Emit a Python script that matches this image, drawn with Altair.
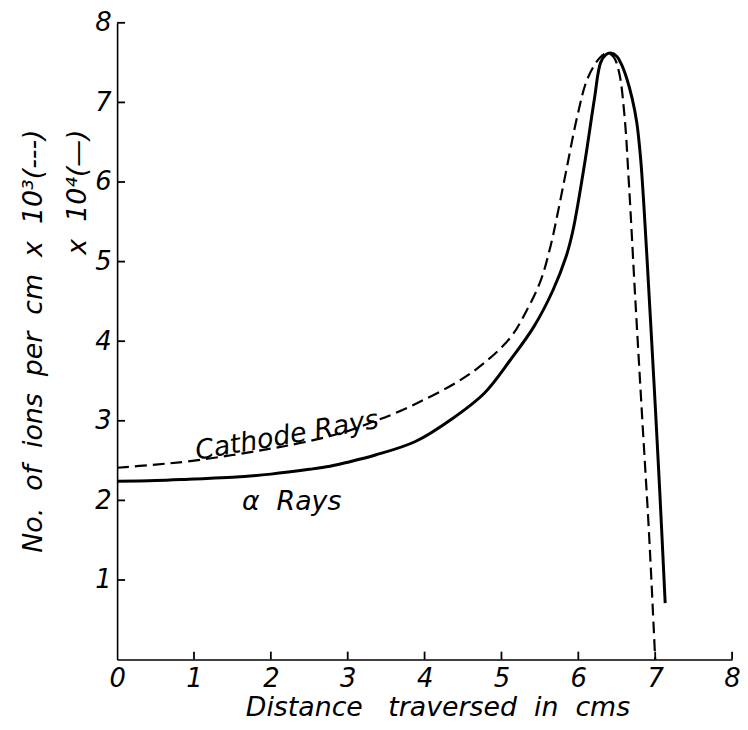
import altair as alt
import pandas as pd

# alpha rays (solid), x10^4 ions per cm
alpha_x = [0.0, 0.5, 1.0, 1.5, 2.0, 2.5, 2.77, 3.0, 3.36, 3.88, 4.35, 4.78, 5.12, 5.42, 5.67, 5.84,
           5.93, 6.08, 6.21, 6.29, 6.36, 6.42, 6.50, 6.56, 6.63, 6.70, 6.76, 6.81, 6.85, 6.89, 6.94,
           7.00, 7.06, 7.13]
alpha_y = [2.24, 2.25, 2.27, 2.29, 2.33, 2.39, 2.43, 2.48, 2.57, 2.74, 3.02, 3.35, 3.77, 4.18, 4.64, 5.06,
           5.39, 6.22, 7.05, 7.50, 7.60, 7.62, 7.58, 7.48, 7.30, 7.05, 6.75, 6.30, 5.75, 5.10, 4.25,
           3.20, 2.10, 0.71]

# cathode rays (dashed), x10^3 ions per cm
cath_x = [0.0, 0.5, 0.92, 1.5, 2.0, 2.43, 3.0, 3.36, 3.53, 3.92, 4.43, 4.78, 5.12, 5.33, 5.51, 5.64,
          5.73, 5.84, 5.99, 6.12, 6.28, 6.38, 6.46, 6.53, 6.60, 6.66, 6.74, 6.83, 6.92, 7.00]
cath_y = [2.41, 2.45, 2.49, 2.57, 2.65, 2.73, 2.87, 3.00, 3.06, 3.23, 3.49, 3.73, 4.05, 4.39, 4.76, 5.20,
          5.60, 6.13, 6.84, 7.30, 7.56, 7.62, 7.57, 7.38, 6.84, 5.95, 4.55, 3.05, 1.58, 0.0]

x_ticks = [0, 1, 2, 3, 4, 5, 6, 7, 8]
y_ticks = [1, 2, 3, 4, 5, 6, 7, 8]
inner_ticks = [1, 2, 3, 4, 5, 6, 7, 8]

NB = "\u00a0"
labels_text = ["Cathode" + NB + "Rays", "\u03b1" + NB + NB + "Rays"]
labels_x = [2.21, 2.27]
labels_y = [2.81, 1.98]
labels_angle = [350, 0]

x_title = "Distance" + NB + NB + " traversed" + NB + " in" + NB + " cms"
y_title = ["No." + NB + " of" + NB + " ions" + NB + " per" + NB + " cm" + NB + " x" + NB + " 10\u00b3(---)",
           "x" + NB + " 10\u2074(\u2014)"]

FONT = "DejaVu Sans"
W, H = 620, 642

alpha_df = pd.DataFrame({"x": alpha_x, "y": alpha_y})
cath_df = pd.DataFrame({"x": cath_x, "y": cath_y})
tick_df = pd.DataFrame({"x": inner_ticks, "y": inner_ticks})
lab_df = pd.DataFrame({"x": labels_x, "y": labels_y, "t": labels_text, "a": labels_angle})

xscale = alt.Scale(domain=[0, 8], nice=False, zero=False)
yscale = alt.Scale(domain=[0, 8], nice=False, zero=False)

xaxis = alt.Axis(
    title=x_title, values=x_ticks, ticks=False, grid=False,
    domainColor="black", domainWidth=1.6, labelFont=FONT, labelFontSize=26,
    labelFontStyle="italic", labelColor="black", labelPadding=6, labelFlush=False,
    titleFont=FONT, titleFontSize=27, titleFontStyle="italic", titleFontWeight="normal",
    titleColor="black", titleX=323, titleY=56, titleBaseline="alphabetic", titleAlign="center",
)
yaxis = alt.Axis(
    title=y_title, values=y_ticks, ticks=False,
    grid=False, domainColor="black", domainWidth=1.6, labelFont=FONT, labelFontSize=26,
    labelFontStyle="italic", labelColor="black", labelPadding=6, labelFlush=False,
    titleFont=FONT, titleFontSize=27, titleFontStyle="italic", titleFontWeight="normal",
    titleColor="black", titleAngle=270, titleAlign="right", titleBaseline="middle",
    titleX=-84, titleY=107, titleLineHeight=44,
)

X = alt.X("x:Q", scale=xscale, axis=xaxis)
Y = alt.Y("y:Q", scale=yscale, axis=yaxis)

alpha_line = alt.Chart(alpha_df).mark_line(color="black", strokeWidth=3,
                                           interpolate="catmull-rom").encode(x=X, y=Y)
cath_line = alt.Chart(cath_df).mark_line(color="black", strokeWidth=2.2, strokeDash=[12, 6],
                                         interpolate="catmull-rom").encode(x=X, y=Y)

xt = alt.Chart(tick_df).mark_rule(color="black", strokeWidth=1.8).encode(
    x=X, y=alt.value(H), y2=alt.value(H - 8))
yt = alt.Chart(tick_df).mark_rule(color="black", strokeWidth=1.8).encode(
    y=Y, x=alt.value(0), x2=alt.value(8))

labels = alt.Chart(lab_df).mark_text(font=FONT, fontSize=27, fontStyle="italic", color="black",
                                     align="center", baseline="middle").encode(
    x=X, y=Y, text="t:N", angle=alt.Angle("a:Q", scale=None))

chart = alt.layer(alpha_line, cath_line, xt, yt, labels).properties(
    width=W, height=H,
    autosize=alt.AutoSizeParams(type="none"),
    padding={"left": 110, "top": 12, "right": 8, "bottom": 60},
    background="white",
).configure_view(stroke=None)

chart.save("out.html", embed_options={"renderer": "svg", "actions": False})
